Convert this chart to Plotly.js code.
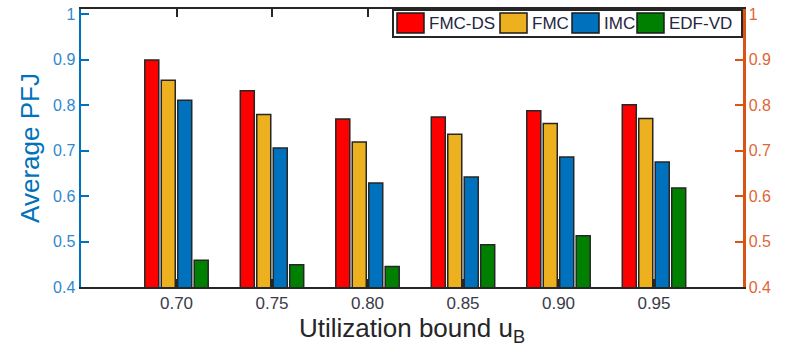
<!DOCTYPE html>
<html><head><meta charset="utf-8">
<script src="https://cdn.plot.ly/plotly-3.0.1.min.js"></script>
<style>html,body{margin:0;padding:0;background:#fff}#chart{width:794px;height:358px}</style>
</head><body><div id="chart"></div>
<script>
const categories = [0.70, 0.75, 0.80, 0.85, 0.90, 0.95];
const tickLabels = ['0.70','0.75','0.80','0.85','0.90','0.95'];
const fmcDs = [0.90, 0.832, 0.770, 0.774, 0.788, 0.801];
const fmc   = [0.855, 0.780, 0.719, 0.736, 0.760, 0.771];
const imc   = [0.811, 0.706, 0.629, 0.642, 0.686, 0.675];
const edfVd = [0.459, 0.449, 0.445, 0.493, 0.513, 0.618];
const seriesNames = ['FMC-DS','FMC','IMC','EDF-VD'];
const yTicks = [0.4,0.5,0.6,0.7,0.8,0.9,1];
const yTickText = ['0.4','0.5','0.6','0.7','0.8','0.9','1'];

const colors = ['#FF0000','#EDB120','#0072BD','#008000'];
const vals = [fmcDs, fmc, imc, edfVd];
const traces = vals.map((v,i)=>({
  type:'bar', x:categories, y:v, name:seriesNames[i],
  marker:{color:colors[i], line:{color:'#262626', width:1.5}},
  xaxis:'x', yaxis:'y', showlegend:false
}));
traces.push({type:'scatter', x:[0.8], y:[0.5], xaxis:'x', yaxis:'y2', mode:'markers',
  marker:{opacity:0}, showlegend:false, hoverinfo:'skip'});

// plot-area geometry (pixels) for a hand-drawn MATLAB-style legend
const M = {l:81, r:51, t:9, b:71}, W = 794, H = 358;
const pw = W - M.l - M.r, ph = H - M.t - M.b;
const px = x => (x - M.l) / pw, py = y => (H - M.b - y) / ph;
const legBox = {x0:393, x1:742, y0:10, y1:37};
const swX = [397, 500, 572, 637], swW = 27, swY0 = 13, swY1 = 33;
const shapes = [{type:'rect', xref:'paper', yref:'paper',
  x0:px(legBox.x0), x1:px(legBox.x1), y0:py(legBox.y1), y1:py(legBox.y0),
  fillcolor:'#fff', line:{color:'#262626', width:2}, layer:'above'}];
const annotations = [];
seriesNames.forEach((n,i)=>{
  shapes.push({type:'rect', xref:'paper', yref:'paper',
    x0:px(swX[i]), x1:px(swX[i]+swW), y0:py(swY1), y1:py(swY0),
    fillcolor:colors[i], line:{color:'#1a1a1a', width:1.5}, layer:'above'});
  annotations.push({xref:'paper', yref:'paper', x:px(swX[i]+swW+3), y:py((swY0+swY1)/2),
    xanchor:'left', yanchor:'middle', text:n, showarrow:false,
    font:{size:17, color:'#262640'}});
});

const font = 'Liberation Sans, Arial, sans-serif';
const layout = {
  width:W, height:H, margin:M,
  paper_bgcolor:'#fff', plot_bgcolor:'#fff',
  font:{family:font, color:'#262626'},
  barmode:'group', bargap:0.31, bargroupgap:0.15,
  showlegend:false, shapes, annotations,
  xaxis:{range:[0.65,0.9966], tickvals:categories, ticktext:tickLabels,
    ticks:'inside', ticklen:8, tickwidth:2, tickcolor:'#262626', layer:'below traces',
    showgrid:false, zeroline:false,
    showline:true, linecolor:'#262626', linewidth:2, mirror:'ticks',
    tickfont:{size:17, color:'#3a3a48'},
    title:{text:'Utilization bound u<sub>B</sub>', font:{size:26, color:'#262626'}, standoff:6}},
  yaxis:{range:[0.4,1.012], tickvals:yTicks, ticktext:yTickText,
    ticks:'inside', ticklen:8, tickwidth:2, tickcolor:'#0072BD',
    showgrid:false, zeroline:false, showline:true, linecolor:'#0072BD', linewidth:2.5,
    tickfont:{size:16, color:'#3088D0'},
    title:{text:'Average PFJ', font:{size:26, color:'#0072BD'}, standoff:6}},
  yaxis2:{overlaying:'y', side:'right', range:[0.4,1.012], tickvals:yTicks, ticktext:yTickText,
    ticks:'inside', ticklen:8, tickwidth:2, tickcolor:'#D95319',
    showgrid:false, zeroline:false, showline:true, linecolor:'#D95319', linewidth:2.5,
    tickfont:{size:16, color:'#E06535'}, anchor:'x'}
};
Plotly.newPlot('chart', traces, layout, {displayModeBar:false, staticPlot:true});
</script></body></html>
